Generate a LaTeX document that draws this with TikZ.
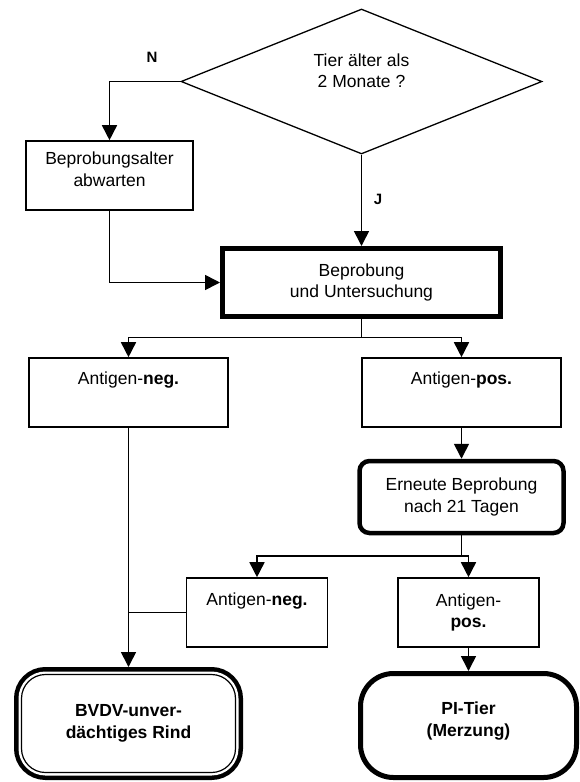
\documentclass[tikz,border=0pt]{standalone}
\usepackage{fontspec}
\setmainfont{Liberation Sans}
\usetikzlibrary{shapes,arrows.meta,positioning,calc}

\begin{document}
\begin{tikzpicture}[
    x=1pt, y=-1pt,
    font=\fontsize{17.5}{21.5}\selectfont,
    every node/.style={inner sep=0pt, align=center},
    decision/.style={diamond, draw, line width=1.3pt, aspect=2.5, minimum width=361pt, minimum height=145pt},
    stepbox/.style={rectangle, draw, line width=1.6pt, minimum height=69pt},
    mainbox/.style={rectangle, draw, line width=5pt, minimum width=278pt, minimum height=68pt},
    retestbox/.style={rectangle, draw, line width=4.5pt, rounded corners=10pt, minimum width=204pt, minimum height=72pt},
    endok/.style={rectangle, rounded corners=24pt, draw, fill=white, line width=1.2pt, outer sep=7.5pt,
        preaction={draw, line width=15pt}, preaction={draw=white, line width=6pt},
        minimum width=214pt, minimum height=98pt, font=\fontsize{17.5}{21.5}\selectfont\bfseries},
    endpi/.style={rectangle, rounded corners=33pt, draw, line width=5pt,
        minimum width=216pt, minimum height=104pt, font=\fontsize{17.5}{21.5}\selectfont\bfseries},
    lbl/.style={font=\fontsize{15}{17}\selectfont\bfseries},
    link/.style={line width=1.6pt},
    flow/.style={-{Triangle[length=15pt,width=15pt]}, line width=1.6pt}
]
    \useasboundingbox (0,0) rectangle (579,782);

    \node [decision] (age) at (361.5,81.5) {Tier älter als\\2 Monate ?\\\mbox{}};
    \node [stepbox, minimum width=167pt] (wait) at (109.5,175.5) {Beprobungsalter\\abwarten\\[-9pt]\mbox{}};
    \node [mainbox] (probe) at (361.5,282.5) {Beprobung\\und Untersuchung};
    \node [stepbox, minimum width=199pt] (neg) at (128.5,392.5) {Antigen-\textbf{neg.}\\[7pt]\mbox{}};
    \node [stepbox, minimum width=199pt] (pos) at (461.5,392.5) {Antigen-\textbf{pos.}\\[7pt]\mbox{}};
    \node [retestbox] (retest) at (461.5,497) {Erneute Beprobung\\nach 21 Tagen};
    \node [stepbox, minimum width=141pt] (negb) at (257,612.5) {Antigen-\textbf{neg.}\\[5pt]\mbox{}};
    \node [stepbox, minimum width=141pt] (posb) at (468.5,612.5) {Antigen-\\\textbf{pos.}};
    \node [endok] (free) at (128.5,723.5) {BVDV-unver-\\dächtiges Rind};
    \node [endpi] (pi) at (468.5,725.5) {PI-Tier\\(Merzung)\\[-9pt]\mbox{}};

    \node [lbl] (no) at (152,57) {N};
    \node [lbl] (yes) at (378,199) {J};

    \coordinate (split1) at (361.5,337.5);
    \coordinate (split2) at (461.5,556);

    \draw [flow] (age.west) -| (wait.north);
    \draw [flow] (age.south) -- (probe.north);
    \draw [flow] (wait.south) |- (probe.west);
    \draw [link] (probe.south) -- (split1);
    \draw [flow] (split1) -| (neg.north);
    \draw [flow] (split1) -| (pos.north);
    \draw [flow] (pos.south) -- (retest.north);
    \draw [link] (retest.south) -- (split2);
    \draw [flow] (split2) -| (negb.north);
    \draw [flow] (split2) -| (posb.north);
    \draw [flow] (neg.south) -- (free.north);
    \draw [link] (negb.west) -- (negb.west -| neg.south);
    \draw [flow] (posb.south) -- (pi.north);
\end{tikzpicture}
\end{document}
